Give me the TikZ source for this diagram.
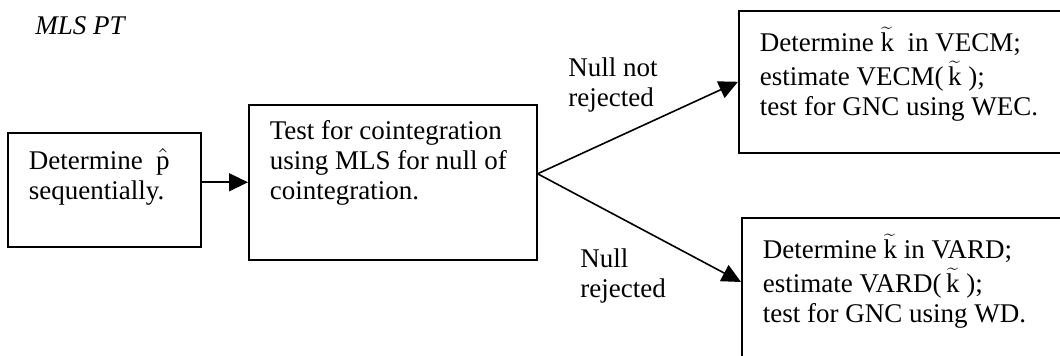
\documentclass[tikz,border=0pt]{standalone}
\usepackage{fontspec}
\setmainfont{Liberation Serif}
\usetikzlibrary{arrows.meta, positioning}

\newcommand{\ktil}{$\widetilde{\hbox{k}}$}
\newcommand{\phat}{$\hat{\hbox{p}}$}

\tikzset{
  stepbox/.style={draw, line width=0.8pt, anchor=north west, inner xsep=10.5pt, inner ysep=8pt},
  flow/.style={line width=0.8pt, -{Triangle[length=9.5pt, width=9pt]}},
  lbl/.style={align=left, inner sep=0pt, anchor=north west},
}

\begin{document}
\begin{tikzpicture}[x=1pt, y=1pt, font=\fontsize{13.5}{15}\selectfont]
  \path[use as bounding box, clip] (0,0) rectangle (530,178);
  % Title
  \node[lbl, font=\fontsize{13.5}{15}\selectfont\itshape] (title) at (17.5,170) {MLS PT};
  % Boxes
  \node[stepbox] (detp) at (3.5,112)
    {\parbox[t][41pt][t]{75.5pt}{Determine\ \ \phat\\ sequentially.}};
  \node[stepbox] (testc) at (124,126)
    {\parbox[t][61.5pt][t]{123pt}{Test for cointegration\\ using MLS for null of\\ cointegration.}};
  \node[stepbox] (vecm) at (369,173)
    {\parbox[t][55pt][t]{149pt}{Determine \ktil\ \ in VECM;\\[2pt] estimate VECM(\,\ktil~);\\ test for GNC using WEC.}};
  \node[stepbox] (vard) at (370.5,69.5)
    {\parbox[t][64pt][t]{149pt}{Determine \ktil\ in VARD;\\[2pt] estimate VARD(\,\ktil~);\\ test for GNC using WD.}};
  % Connectors
  \coordinate (split) at ([yshift=4.25pt]testc.east);
  \coordinate (vardin) at ([yshift=-32.5pt]vard.north west);
  \draw[flow] (detp.east |- testc.west) -- (testc.west);
  \draw[flow] (split) -- (vecm.west);
  \draw[flow] (split) -- (vardin);
  % Branch labels
  \node[lbl] (notrej) at (284,149.5) {Null not\\rejected};
  \node[lbl] (rej) at (290,54) {Null\\rejected};
\end{tikzpicture}
\end{document}
